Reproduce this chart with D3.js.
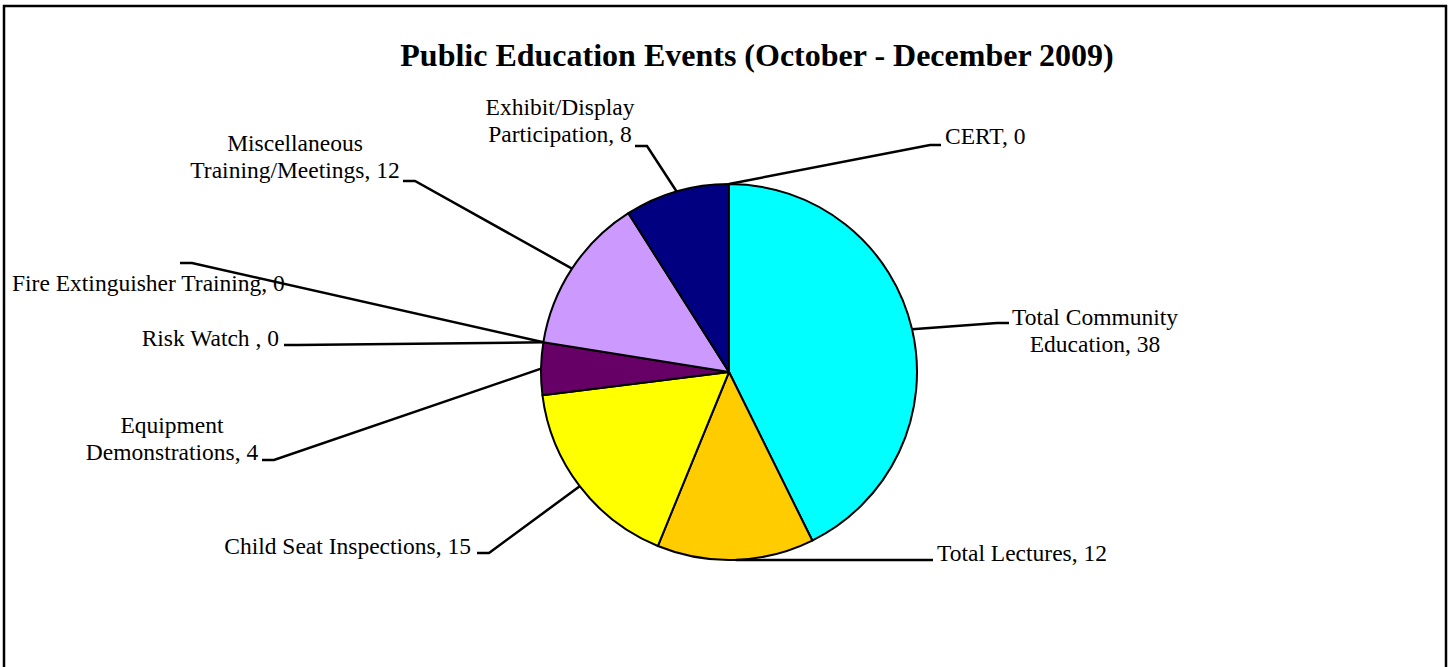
<!DOCTYPE html>
<html>
<head>
<meta charset="utf-8">
<script src="https://cdn.jsdelivr.net/npm/d3@7"></script>
<style>
  body { margin: 0; background: #fff; }
  svg text { font-family: "Liberation Serif", "Times New Roman", serif; fill: #000; }
</style>
</head>
<body>
<script>
// data
const categories = ["Total Community\nEducation", "Total Lectures", "Child Seat Inspections",
    "Equipment\nDemonstrations", "Risk Watch ", "Fire Extinguisher Training",
    "Miscellaneous\nTraining/Meetings", "Exhibit/Display\nParticipation", "CERT"];
const values = [38, 12, 15, 4, 0, 0, 12, 8, 0];
const colors = ["#00FFFF", "#FFCC00", "#FFFF00", "#660066", "#993366", "#FF8080", "#CC99FF", "#000080", "#0066CC"];

// label placement: elbow point, end of short tick, text anchor point
const labelPos = [
    { ex: 997, ey: 323, tx: 1009, ty: 323, x: 1095, y: 325, anchor: "middle" },
    { ex: 921, ey: 560, tx: 933, ty: 560, x: 937, y: 561, anchor: "start" },
    { ex: 489, ey: 553, tx: 477, ty: 553, x: 471, y: 554, anchor: "end" },
    { ex: 274, ey: 460, tx: 262, ty: 460, x: 172, y: 433, anchor: "middle" },
    { ex: 297, ey: 345, tx: 284, ty: 345, x: 279, y: 346, anchor: "end" },
    { ex: 192, ey: 263, tx: 180, ty: 263, x: 12, y: 291, anchor: "start" },
    { ex: 415, ey: 181, tx: 403, ty: 181, x: 295, y: 151, anchor: "middle" },
    { ex: 647, ey: 146, tx: 635, ty: 146, x: 560, y: 115, anchor: "middle" },
    { ex: 930, ey: 145, tx: 941, ty: 145, x: 945, y: 144, anchor: "start" }
];

const width = 1449, height = 667;
const cx = 729, cy = 372, radius = 188;

const svg = d3.select("body").append("svg")
    .attr("width", width)
    .attr("height", height);

// outer frame (bottom edge falls outside the picture)
svg.append("rect")
    .attr("x", 4).attr("y", 6)
    .attr("width", 1442).attr("height", 720)
    .attr("fill", "#fff")
    .attr("stroke", "#000")
    .attr("stroke-width", 2.5);

svg.append("text")
    .attr("x", 757)
    .attr("y", 66)
    .attr("text-anchor", "middle")
    .style("font-size", "32px")
    .style("font-weight", "bold")
    .text("Public Education Events (October - December 2009)");

const pie = d3.pie().sort(null).value(d => d);
const arcs = pie(values);
const arc = d3.arc().innerRadius(0).outerRadius(radius);

const g = svg.append("g").attr("transform", `translate(${cx},${cy})`);

g.selectAll("path.slice")
    .data(arcs.filter(d => d.value > 0))
    .enter().append("path")
    .attr("class", "slice")
    .attr("d", arc)
    .attr("fill", d => colors[d.index])
    .attr("stroke", "#000")
    .attr("stroke-width", 2)
    .attr("stroke-linejoin", "round");

// leader lines from the slice edge to each label
arcs.forEach((d, i) => {
    const a = (d.startAngle + d.endAngle) / 2;
    const px = cx + radius * Math.sin(a);
    const py = cy - radius * Math.cos(a);
    const p = labelPos[i];
    svg.append("polyline")
        .attr("points", `${px},${py} ${p.ex},${p.ey} ${p.tx},${p.ty}`)
        .attr("fill", "none")
        .attr("stroke", "#000")
        .attr("stroke-width", 2.5);

    const lines = `${categories[i]}, ${values[i]}`.split("\n");
    const t = svg.append("text")
        .attr("x", p.x)
        .attr("y", p.y)
        .attr("text-anchor", p.anchor)
        .style("font-size", "23.5px");
    lines.forEach((ln, k) => {
        t.append("tspan")
            .attr("x", p.x)
            .attr("dy", k === 0 ? 0 : 27)
            .text(ln);
    });
});
</script>
</body>
</html>
